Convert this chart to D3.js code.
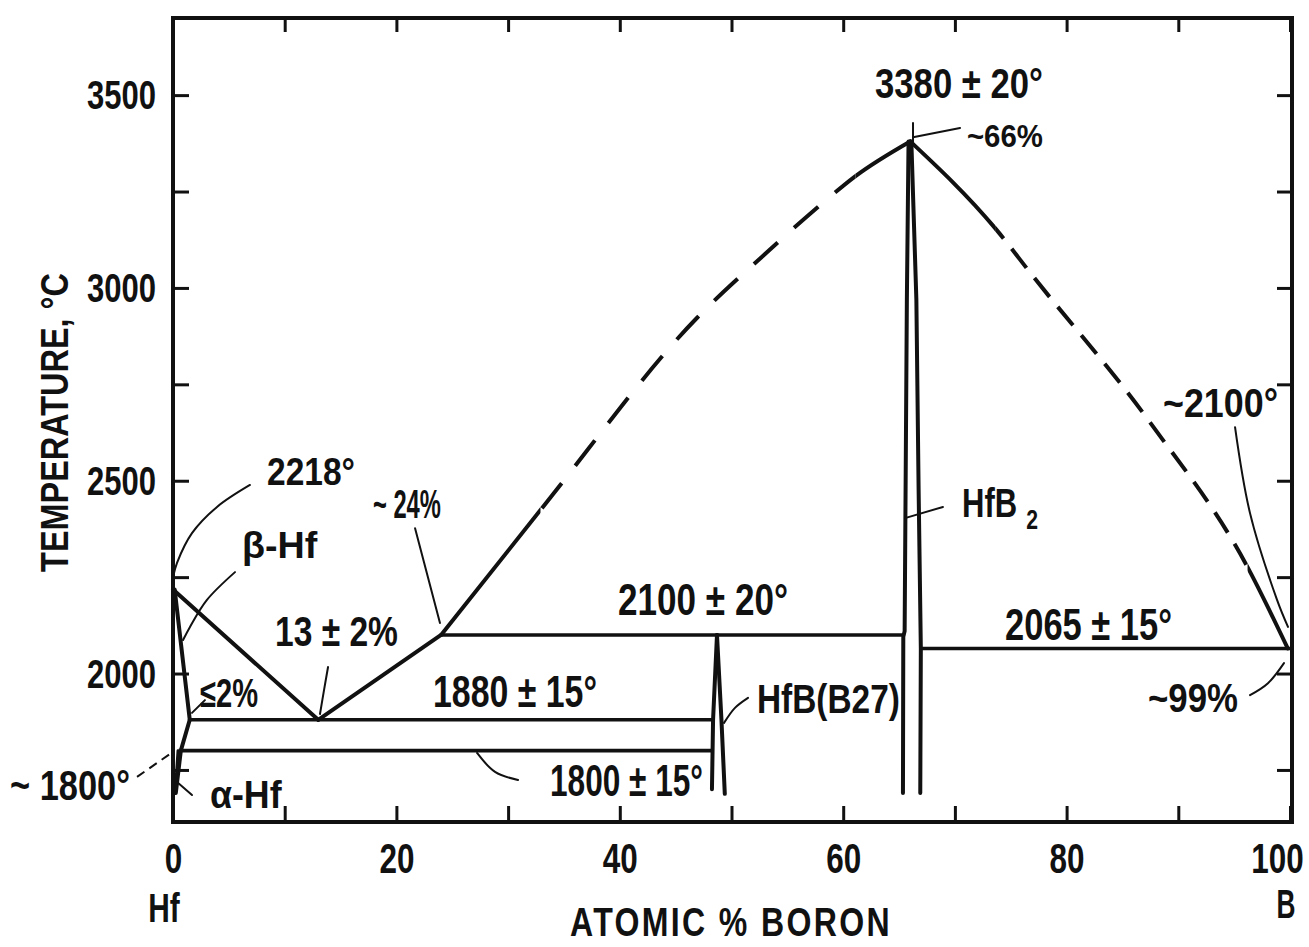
<!DOCTYPE html>
<html>
<head>
<meta charset="utf-8">
<script src="https://cdn.jsdelivr.net/npm/d3@7"></script>
<style>
  html, body { margin: 0; padding: 0; background: #fff; }
  svg { display: block; }
  text { font-family: "Liberation Sans Narrow", "Liberation Sans", Arial, sans-serif; fill: #111; font-weight: bold; }
</style>
</head>
<body>
<svg id="chart" width="1309" height="947"></svg>
<script>
// ---- axis ticks -------------------------------------------------------
const xTicks = [0, 10, 20, 30, 40, 50, 60, 70, 80, 90, 100];
const xTickLabels = [0, 20, 40, 60, 80, 100];
const yTicks = [1750, 2000, 2250, 2500, 2750, 3000, 3250, 3500];
const yTickLabels = [2000, 2500, 3000, 3500];

// ---- phase boundaries: [atomic % B, temperature °C] -------------------
const liquidusHf       = [[0, 2218], [13, 1880]];
const liquidusEutectic = [[13, 1880], [24, 2100]];
const liquidusRise     = [[24, 2100], [32.9, 2424], [46.9, 2922], [53.2, 3093], [58.8, 3236], [61.1, 3290], [66, 3380]];
const liquidusFall     = [[66, 3380], [73.6, 3155], [77, 3030], [87.5, 2650], [96.2, 2276], [99.8, 2065]];
const riseDashed       = [32.9, 61.1];   // uncertain stretch of the rising branch
const fallDashed       = [73.6, 96.2];   // uncertain stretch of the falling branch

const solidusBetaHf  = [[0.15, 2218], [1.5, 1880]];
const solvusBetaHf   = [[1.5, 1880], [0.7, 1800], [0.25, 1690]];
const solvusAlphaHf  = [[0.45, 1800], [0.2, 1690]];
const isotherm1880   = [[1.5, 1880], [48.35, 1880]];
const isotherm1800   = [[0.5, 1800], [48.25, 1800]];
const isotherm2100   = [[24, 2100], [65.45, 2100]];
const isotherm2065   = [[66.95, 2065], [100, 2065]];
const hfbLeft        = [[48.7, 2100], [48.35, 1880], [48.25, 1700]];
const hfbRight       = [[48.7, 2100], [49.1, 1880], [49.4, 1688]];
const hfb2Left       = [[65.85, 3380], [65.7, 2970], [65.5, 2110], [65.38, 2095], [65.35, 1690]];
const hfb2Right      = [[66.1, 3380], [66.55, 2970], [66.75, 2480], [66.95, 2065], [66.9, 1690]];

// ---- leader lines from labels to features ----------------------------
const leaders = [
  [[6.89, 2489], [3.94, 2432], [1.70, 2364], [0.36, 2287], [0, 2250]],      // 2218°
  [[5.55, 2263], [3.04, 2191], [1.52, 2121], [0.9, 2087]],                  // β-Hf
  [[21.67, 2377], [23.9, 2131]],                                            // ~24%
  [[13.88, 2017], [13.52, 1957], [13.16, 1895]],                            // 13 ± 2%
  [[2.86, 1931], [1.7, 1898]],                                              // ≤2%
  [[1.7, 1685], [0.36, 1719]],                                              // α-Hf
  [[30.89, 1724], [28.83, 1745], [27.22, 1794]],                            // 1800 ± 15°
  [[51.48, 1937], [50.31, 1911], [49.33, 1872]],                            // HfB(B27)
  [[65.53, 2403], [68.93, 2432]],                                           // HfB2
  [[66.25, 3391], [70.46, 3415]],                                           // ~66%
  [[66.25, 3428], [66.25, 3376]],                                           // composition mark at maximum
  [[95.08, 2639], [96.42, 2416], [98.84, 2191], [99.82, 2121]],             // ~2100°
  [[96.42, 1944], [98.03, 1975], [99.46, 2027]]                             // ~99%
];
const dashedLeader = [[-3.22, 1732], [0, 1797]];                            // ~1800°

// ---- annotation text: [text, atomic % B, temperature, font size, width, subscript]
const labels = [
  ["3380 ± 20°", 62.85, 3492, 42, 168],
  ["~66%", 71.08, 3365, 31, 76],
  ["2218°", 8.42, 2489, 39, 88],
  ["β-Hf", 6.18, 2300, 37, 76],
  ["~ 24%", 17.9, 2403, 40, 68],
  ["13 ± 2%", 9.13, 2071, 43, 123],
  ["≤2%", 2.42, 1913, 40, 58],
  ["1880 ± 15°", 23.28, 1913, 44, 164],
  ["2100 ± 20°", 39.84, 2152, 44, 170],
  ["1800 ± 15°", 33.75, 1682, 44, 153],
  ["HfB(B27)", 52.28, 1898, 40, 143],
  ["HfB", 70.64, 2406, 41, 76, "2"],
  ["~2100°", 88.63, 2665, 41, 115],
  ["2065 ± 15°", 74.49, 2087, 44, 167],
  ["~99%", 87.29, 1900, 40, 90],
  ["~ 1800°", -14.59, 1672, 42, 120],
  ["α-Hf", 3.31, 1651, 38, 72]
];

// ---- scales ----------------------------------------------------------
const svg = d3.select("#chart");
const x = d3.scaleLinear().domain([0, 100]).range([173, 1290]);
const y = d3.scaleLinear().domain([1615, 3700]).range([822, 18]);
const [x0, x1] = x.range();
const [yb, yt] = y.range();

const line = d3.line().x(d => x(d[0])).y(d => y(d[1]));
const smooth = d3.line().x(d => x(d[0])).y(d => y(d[1])).curve(d3.curveMonotoneX);

// Narrow the lettering horizontally so each text fills a given width.
function squeeze(sel, widthOf, shiftOf) {
  sel.each(function (d, i) {
    const target = widthOf(d, i);
    if (!target) return;
    const t = d3.select(this);
    const natural = this.getBBox().width;
    const tx = (+t.attr("x") || 0) + (shiftOf ? shiftOf(d) : 0);
    const ty = +t.attr("y") || 0;
    t.attr("x", 0).attr("y", 0)
      .attr("transform", `translate(${tx},${ty}) scale(${target / natural},1)`);
  });
}

// ---- axes: ticks point inward on all four sides ----------------------
function styleAxis(g) {
  g.select(".domain").remove();
  g.selectAll(".tick line").attr("stroke", "#111").attr("stroke-width", 3);
}

const gBottom = svg.append("g").attr("transform", `translate(0,${yb})`)
  .call(d3.axisBottom(x).tickValues(xTicks).tickSizeInner(-16).tickSizeOuter(0).tickPadding(21)
    .tickFormat(d => xTickLabels.includes(d) ? d : ""));
styleAxis(gBottom);
gBottom.selectAll(".tick text").attr("font-size", 42).attr("fill", "#111");
squeeze(gBottom.selectAll(".tick text"),
  d => xTickLabels.includes(d) ? String(d).length * 17.5 : 0,
  d => d === 100 ? -13 : 0);

const gTop = svg.append("g").attr("transform", `translate(0,${yt})`)
  .call(d3.axisTop(x).tickValues(xTicks).tickSizeInner(-14).tickSizeOuter(0).tickFormat(""));
styleAxis(gTop);

const gLeft = svg.append("g").attr("transform", `translate(${x0},0)`)
  .call(d3.axisLeft(y).tickValues(yTicks).tickSizeInner(-16).tickSizeOuter(0).tickPadding(17)
    .tickFormat(d => yTickLabels.includes(d) ? d : ""));
styleAxis(gLeft);
gLeft.selectAll(".tick text").attr("font-size", 41).attr("fill", "#111").attr("dy", "0.33em");
squeeze(gLeft.selectAll(".tick text"), d => yTickLabels.includes(d) ? 69 : 0);

const gRight = svg.append("g").attr("transform", `translate(${x1 + 2},0)`)
  .call(d3.axisRight(y).tickValues(yTicks).tickSizeInner(-15).tickSizeOuter(0).tickFormat(""));
styleAxis(gRight);

// frame
svg.append("rect")
  .attr("x", x0).attr("y", yt)
  .attr("width", x1 + 2 - x0).attr("height", yb - yt)
  .attr("fill", "none").attr("stroke", "#111").attr("stroke-width", 4);

// ---- phase boundaries ------------------------------------------------
const plot = svg.append("g")
  .attr("fill", "none").attr("stroke", "#111")
  .attr("stroke-linecap", "round").attr("stroke-linejoin", "round");

const defs = svg.append("defs");
function clipRanges(id, ranges) {
  const cp = defs.append("clipPath").attr("id", id);
  ranges.forEach(([a, b]) => cp.append("rect")
    .attr("x", x(a)).attr("y", 0).attr("width", x(b) - x(a)).attr("height", 947));
  return `url(#${id})`;
}

function branch(points, dashed, name) {
  const lo = points[0][0], hi = points[points.length - 1][0];
  plot.append("path").attr("d", smooth(points)).attr("stroke-width", 4)
    .attr("clip-path", clipRanges(name + "-solid", [[lo - 1, dashed[0]], [dashed[1], hi + 1]]));
  plot.append("path").attr("d", smooth(points)).attr("stroke-width", 4)
    .attr("stroke-dasharray", name === "rise" ? "32 22" : "24 13")
    .attr("stroke-linecap", "butt")
    .attr("clip-path", clipRanges(name + "-dashed", [dashed]));
}

plot.append("path").attr("d", line(liquidusHf)).attr("stroke-width", 4);
plot.append("path").attr("d", line(liquidusEutectic)).attr("stroke-width", 4);
branch(liquidusRise, riseDashed, "rise");
branch(liquidusFall, fallDashed, "fall");

[solidusBetaHf, solvusBetaHf].forEach(p => plot.append("path").attr("d", line(p)).attr("stroke-width", 4));
plot.append("path").attr("d", line(solvusAlphaHf)).attr("stroke-width", 3);
[isotherm1880, isotherm1800, isotherm2100, isotherm2065].forEach(p =>
  plot.append("path").attr("d", line(p)).attr("stroke-width", 3.6).attr("stroke-linecap", "butt"));
[hfbLeft, hfbRight, hfb2Left, hfb2Right].forEach(p =>
  plot.append("path").attr("d", line(p)).attr("stroke-width", 4));

// ---- leaders ---------------------------------------------------------
const curvy = d3.line().x(d => x(d[0])).y(d => y(d[1])).curve(d3.curveCatmullRom);
leaders.forEach(p => plot.append("path").attr("d", curvy(p)).attr("stroke-width", 2));
plot.append("path").attr("d", line(dashedLeader)).attr("stroke-width", 2)
  .attr("stroke-dasharray", "9 6").attr("stroke-linecap", "butt");

// ---- annotation text -------------------------------------------------
const ann = svg.append("g").selectAll("text").data(labels).join("text")
  .attr("x", d => x(d[1])).attr("y", d => y(d[2]))
  .attr("font-size", d => d[3])
  .text(d => d[0]);
ann.filter(d => d[5]).append("tspan")
  .attr("font-size", 28).attr("dx", 12).attr("dy", 12)
  .text(d => d[5]);
squeeze(ann, d => d[4]);

// component names under the axis ends
const ends = svg.append("g");
ends.append("text").attr("x", x(0) - 9).attr("y", yb + 100)
  .attr("text-anchor", "middle").attr("font-size", 40).text("Hf");
ends.append("text").attr("x", x(100) - 4).attr("y", yb + 96)
  .attr("text-anchor", "middle").attr("font-size", 40).text("B");
squeeze(ends.selectAll("text"), (d, i) => i === 0 ? 32 : 19);

// axis titles
const xTitle = svg.append("text").attr("x", 731).attr("y", 936)
  .attr("text-anchor", "middle").attr("font-size", 41)
  .attr("letter-spacing", 3)
  .text("ATOMIC % BORON");
squeeze(xTitle, () => 322);

const yTitle = svg.append("text")
  .attr("text-anchor", "middle").attr("font-size", 39)
  .text("TEMPERATURE, °C");
const yTitleScale = 299 / yTitle.node().getBBox().width;
yTitle.attr("transform", `translate(68,${(273 + 572) / 2}) rotate(-90) scale(${yTitleScale},1)`);
</script>
</body>
</html>
